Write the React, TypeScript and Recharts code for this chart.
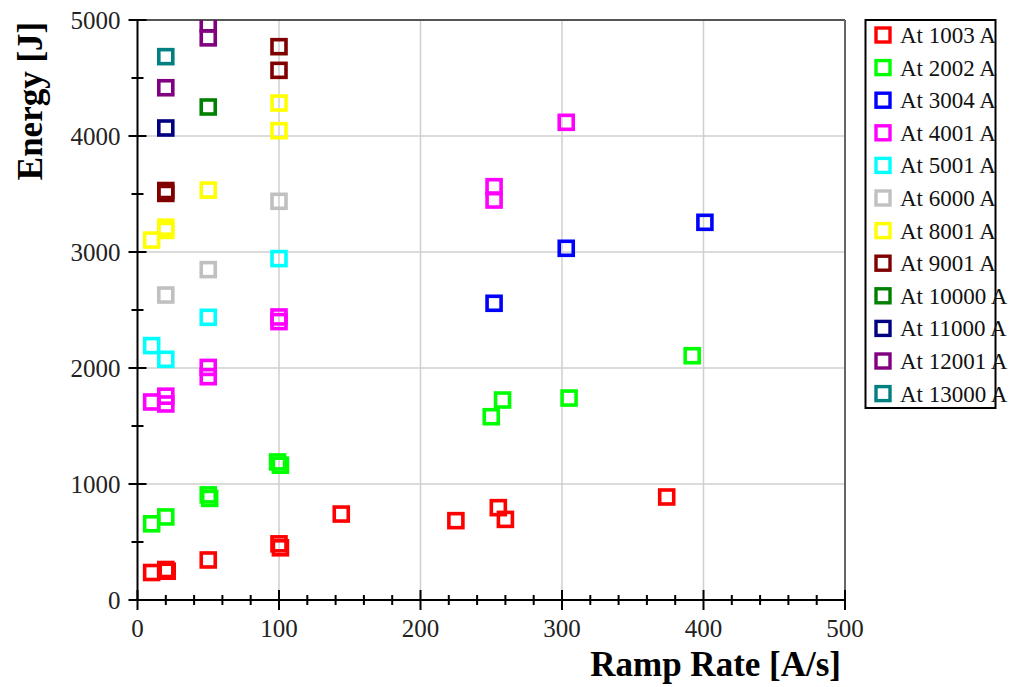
import { ScatterChart, Scatter, XAxis, YAxis, ReferenceLine, Label } from 'recharts';

type Pt = { x: number; y: number };

// Energy vs ramp rate, one series per transport current
const at1003: Pt[] = [
  { x: 10, y: 237 }, { x: 20, y: 263 }, { x: 21, y: 248 }, { x: 50, y: 345 },
  { x: 100, y: 484 }, { x: 101, y: 450 }, { x: 144, y: 741 }, { x: 225, y: 684 },
  { x: 255, y: 796 }, { x: 260, y: 695 }, { x: 374, y: 888 },
];
const at2002: Pt[] = [
  { x: 10, y: 657 }, { x: 20, y: 716 }, { x: 50, y: 906 }, { x: 51, y: 876 },
  { x: 99, y: 1190 }, { x: 101, y: 1162 }, { x: 250, y: 1580 }, { x: 258, y: 1724 },
  { x: 305, y: 1741 }, { x: 392, y: 2106 },
];
const at3004: Pt[] = [{ x: 252, y: 2558 }, { x: 303, y: 3032 }, { x: 401, y: 3256 }];
const at4001: Pt[] = [
  { x: 10, y: 1707 }, { x: 20, y: 1757 }, { x: 20, y: 1690 }, { x: 50, y: 2005 },
  { x: 50, y: 1925 }, { x: 100, y: 2440 }, { x: 100, y: 2400 }, { x: 252, y: 3563 },
  { x: 252, y: 3448 }, { x: 303, y: 4118 },
];
const at5001: Pt[] = [{ x: 10, y: 2193 }, { x: 20, y: 2075 }, { x: 50, y: 2437 }, { x: 100, y: 2943 }];
const at6000: Pt[] = [{ x: 20, y: 2629 }, { x: 50, y: 2848 }, { x: 100, y: 3437 }];
const at8001: Pt[] = [
  { x: 10, y: 3103 }, { x: 20, y: 3186 }, { x: 20, y: 3214 }, { x: 50, y: 3534 },
  { x: 100, y: 4046 }, { x: 100, y: 4284 },
];
const at9001: Pt[] = [{ x: 20, y: 3505 }, { x: 20, y: 3530 }, { x: 100, y: 4566 }, { x: 100, y: 4770 }];
const at10000: Pt[] = [{ x: 50, y: 4250 }];
const at11000: Pt[] = [{ x: 20, y: 4069 }];
const at12001: Pt[] = [{ x: 20, y: 4416 }, { x: 50, y: 4846 }, { x: 50, y: 4967 }];
const at13000: Pt[] = [{ x: 20, y: 4684 }];

const seriesNames = [
  'At 1003 A', 'At 2002 A', 'At 3004 A', 'At 4001 A', 'At 5001 A', 'At 6000 A',
  'At 8001 A', 'At 9001 A', 'At 10000 A', 'At 11000 A', 'At 12001 A', 'At 13000 A',
];
const seriesData = [
  at1003, at2002, at3004, at4001, at5001, at6000,
  at8001, at9001, at10000, at11000, at12001, at13000,
];
const seriesColors = [
  '#ff0000', '#00ff00', '#0000ff', '#ff00ff', '#00ffff', '#c0c0c0',
  '#ffff00', '#800000', '#008000', '#000080', '#800080', '#008080',
];

const xTicks = [0, 20, 40, 60, 80, 100, 120, 140, 160, 180, 200, 220, 240, 260, 280, 300, 320, 340, 360, 380, 400, 420, 440, 460, 480, 500];
const yTicks = [0, 500, 1000, 1500, 2000, 2500, 3000, 3500, 4000, 4500, 5000];
const gridX = [100, 200, 300, 400];
const gridY = [1000, 2000, 3000, 4000];

const SERIF = '"Liberation Serif", "Times New Roman", serif';
const MARK = 14;

const squareShape = (color: string) => (props: any) => (
  <rect
    x={props.cx - MARK / 2}
    y={props.cy - MARK / 2}
    width={MARK}
    height={MARK}
    fill="none"
    stroke={color}
    strokeWidth={3.6}
  />
);

const XTick = ({ x, y, payload }: any) => {
  const major = payload.value % 100 === 0;
  const len = major ? 10 : 5;
  return (
    <g>
      <line x1={x} x2={x} y1={y - len} y2={y + len} stroke="#000" strokeWidth={2} />
      {major && (
        <text x={x} y={y + 37} textAnchor="middle" fontSize={25} fontFamily={SERIF} fill="#222">
          {payload.value}
        </text>
      )}
    </g>
  );
};

const YTick = ({ x, y, payload }: any) => {
  const major = payload.value % 1000 === 0;
  const len = major ? 9 : 6;
  return (
    <g>
      <line x1={x - len} x2={x + len} y1={y} y2={y} stroke="#000" strokeWidth={2} />
      {major && (
        <text x={x - 17} y={y + 8.5} textAnchor="end" fontSize={25} fontFamily={SERIF} fill="#222">
          {payload.value}
        </text>
      )}
    </g>
  );
};

const XTitle = ({ viewBox }: any) => (
  <text
    x={viewBox.x + viewBox.width - 4}
    y={viewBox.y + 76}
    textAnchor="end"
    fontSize={35}
    fontWeight="bold"
    fontFamily={SERIF}
    fill="#000"
  >
    Ramp Rate [A/s]
  </text>
);

const YTitle = ({ viewBox }: any) => {
  const cx = viewBox.x + 42;
  const cy = viewBox.y + 81;
  return (
    <text
      x={cx}
      y={cy}
      transform={`rotate(-90, ${cx}, ${cy})`}
      textAnchor="middle"
      fontSize={35}
      fontWeight="bold"
      fontFamily={SERIF}
      fill="#000"
    >
      Energy [J]
    </text>
  );
};

function LegendBox() {
  const rowH = 32.6;
  return (
    <svg width={152} height={392} style={{ position: 'absolute', left: 864, top: 19, overflow: 'visible' }}>
      <rect x={1.5} y={1} width={130} height={388} fill="#fff" stroke="#000" strokeWidth={2} />
      {seriesNames.map((name, i) => {
        const cy = 16 + i * rowH;
        return (
          <g key={name}>
            <rect
              x={19 - MARK / 2}
              y={cy - MARK / 2}
              width={MARK}
              height={MARK}
              fill="none"
              stroke={seriesColors[i]}
              strokeWidth={3.4}
            />
            <text x={36} y={cy + 8} fontSize={23} fontFamily={SERIF} fill="#111">
              {name}
            </text>
          </g>
        );
      })}
    </svg>
  );
}

export default function App() {
  return (
    <div style={{ position: 'absolute', left: 0, top: 0, width: 1015, height: 687, background: '#fff' }}>
      <ScatterChart width={1015} height={687} margin={{ top: 20, right: 170, bottom: 0, left: 0 }}>
        <XAxis
          type="number"
          dataKey="x"
          domain={[0, 500]}
          ticks={xTicks}
          interval={0}
          height={87}
          tickSize={0}
          tickMargin={0}
          tickLine={false}
          axisLine={{ stroke: '#000', strokeWidth: 2 }}
          tick={<XTick />}
          allowDataOverflow
        >
          <Label content={<XTitle />} />
        </XAxis>
        <YAxis
          type="number"
          dataKey="y"
          domain={[0, 5000]}
          ticks={yTicks}
          interval={0}
          width={137.5}
          tickSize={0}
          tickMargin={0}
          tickLine={false}
          axisLine={{ stroke: '#000', strokeWidth: 2 }}
          tick={<YTick />}
          allowDataOverflow
        >
          <Label content={<YTitle />} />
        </YAxis>
        {gridX.map((v) => (
          <ReferenceLine key={`gx${v}`} x={v} stroke="#cfcfcf" strokeWidth={1.5} />
        ))}
        {gridY.map((v) => (
          <ReferenceLine key={`gy${v}`} y={v} stroke="#cfcfcf" strokeWidth={1.5} />
        ))}
        <ReferenceLine y={5000} stroke="#555" strokeWidth={2} />
        <ReferenceLine x={500} stroke="#666" strokeWidth={2} />
        {seriesData.map((data, i) => (
          <Scatter
            key={seriesNames[i]}
            name={seriesNames[i]}
            data={data}
            shape={squareShape(seriesColors[i])}
            isAnimationActive={false}
          />
        ))}
      </ScatterChart>
      <LegendBox />
    </div>
  );
}
